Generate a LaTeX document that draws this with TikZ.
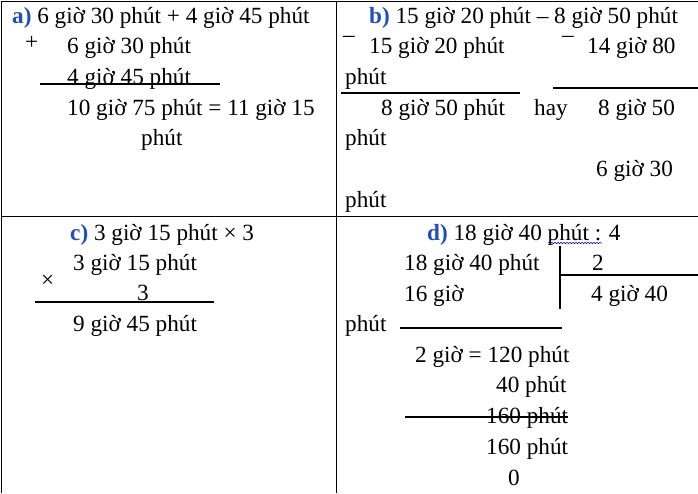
\documentclass[tikz,border=0pt]{standalone}
\usepackage{fontspec}
\setmainfont{Liberation Serif}
\usetikzlibrary{decorations.pathmorphing}
\definecolor{lbl}{RGB}{32,78,190}
\begin{document}
\begin{tikzpicture}[x=1pt,y=-1pt,
 t/.style={anchor=base west,inner sep=0pt,font=\fontsize{23.2}{24}\selectfont},
 rule/.style={line width=1.2pt}]
\useasboundingbox (0,0) rectangle (698,493);
\draw[line width=0.8pt] (1,493) -- (1,1) -- (698,1);
\draw[line width=0.8pt] (1,216) -- (698,216);
\draw[line width=0.8pt] (336,1) -- (336,493);
% a
\node[t] (a1) at (12,23) {\textcolor{lbl}{\textbf{a)}} 6 giờ 30 phút + 4 giờ 45 phút};
\node[t] (a2) at (25,49) {+};
\node[t] (a3) at (67,53) {6 giờ 30 phút};
\node[t] (a4) at (67,84) {4 giờ 45 phút};
\draw[rule] (40,84) -- (220,84);
\node[t] (a5) at (67,115) {10 giờ 75 phút = 11 giờ 15};
\node[t] (a6) at (141,145) {phút};
% b
\node[t] (b1) at (369,23) {\textcolor{lbl}{\textbf{b)}} 15 giờ 20 phút – 8 giờ 50 phút};
\node[t] (b2) at (343,34) {\_};
\node[t] (b3) at (369,53) {15 giờ 20 phút};
\node[t] (b4) at (562,34) {\_};
\node[t] (b5) at (587,53) {14 giờ 80};
\node[t] (b6) at (345,84) {phút};
\draw[rule] (341,93) -- (520,93);
\draw[rule] (553,88) -- (698,88);
\node[t] (b7) at (381,115) {8 giờ 50 phút};
\node[t] (b8) at (534,115) {hay};
\node[t] (b9) at (598,115) {8 giờ 50};
\node[t] (b10) at (345,145) {phút};
\node[t] (b11) at (596,176) {6 giờ 30};
\node[t] (b12) at (345,207) {phút};
% c
\node[t] (c1) at (70,240) {\textcolor{lbl}{\textbf{c)}} 3 giờ 15 phút × 3};
\node[t] (c2) at (73,270) {3 giờ 15 phút};
\node[t] (c3) at (41,287) {×};
\node[t] (c4) at (137,300) {3};
\draw[rule] (35,302) -- (214,302);
\node[t] (c5) at (73,331) {9 giờ 45 phút};
% d
\node[t] (d1) at (427,240) {\textcolor{lbl}{\textbf{d)}} 18 giờ 40 phút : 4};
\draw[blue!70!black,line width=0.5pt,decorate,decoration={snake,amplitude=0.7pt,segment length=3pt}] (548,243) -- (602,243);
\node[t] (d2) at (404,270) {18 giờ 40 phút};
\draw[rule] (560,246) -- (560,309);
\node[t] (d3) at (592,270) {2};
\draw[rule] (560,275) -- (698,275);
\node[t] (d4) at (404,301) {16 giờ};
\node[t] (d5) at (591,301) {4 giờ 40};
\node[t] (d6) at (345,331) {phút};
\draw[rule] (400,328) -- (562,328);
\node[t] (d7) at (415,362) {2 giờ = 120 phút};
\node[t] (d8) at (496,392) {40 phút};
\node[t] (d9) at (486,423) {160 phút};
\draw[rule] (405,417) -- (568,417);
\node[t] (d10) at (486,454) {160 phút};
\node[t] (d11) at (508,485) {0};
\end{tikzpicture}
\end{document}
